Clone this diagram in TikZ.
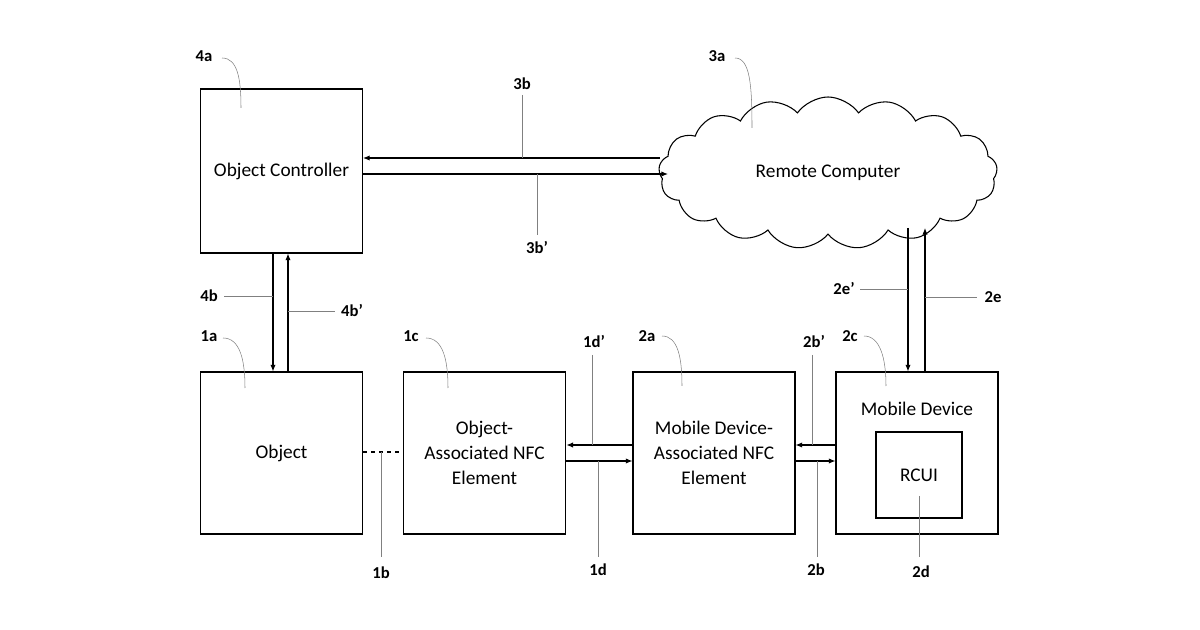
\documentclass[tikz,border=0pt]{standalone}
\usepackage{fontspec}
\setmainfont{Carlito}
\usetikzlibrary{shapes.symbols,arrows.meta}
\begin{document}
\begin{tikzpicture}[x=0.75pt,y=-0.75pt,
  blk/.style={draw,thick,inner sep=0pt,align=center,font=\fontsize{14.5}{18.5}\selectfont},
  lbl/.style={font=\bfseries\fontsize{12.5}{14}\selectfont},
  lead/.style={gray,thin},
  sig/.style={thick,-{Latex[length=5pt,width=4pt]}}]
  \useasboundingbox (0,0) rectangle (1200,630);

  % boxes
  \node[blk,minimum width=121.5pt,minimum height=123pt] (ctrl) at (281.5,171) {Object Controller};
  \node[blk,minimum width=121.5pt,minimum height=121.5pt] (obj) at (281.5,453) {Object};
  \node[blk,minimum width=122pt,minimum height=121.5pt] (onfc) at (484.5,453) {Object-\\Associated NFC\\Element};
  \node[blk,minimum width=121.5pt,minimum height=121.5pt] (mnfc) at (714,453) {Mobile Device-\\Associated NFC\\Element};
  \node[blk,minimum width=121.5pt,minimum height=121.5pt] (mob) at (917,453) {};
  \node[font=\fontsize{14.5}{18.5}\selectfont] (mobt) at (917,409) {Mobile Device};
  \node[blk,minimum width=64.5pt,minimum height=64.5pt] (rcui) at (919,475) {RCUI};
  \node[cloud,draw,thick,cloud puffs=17,cloud puff arc=110,aspect=2.3,
        minimum width=254pt,minimum height=114pt,font=\fontsize{14.5}{18.5}\selectfont] (rc) at (828,173) {Remote Computer};

  % signals
  \coordinate (c1) at (660,158);
  \coordinate (c2) at (668,174);
  \draw[sig] (c1) -- (ctrl.east |- c1);
  \draw[sig] (ctrl.east |- c2) -- (c2);
  \draw[sig] (ctrl.south -| 273,0) -- (obj.north -| 273,0);
  \draw[sig] (obj.north -| 288,0) -- (ctrl.south -| 288,0);
  \draw[sig] (mnfc.west |- 0,445) -- (onfc.east |- 0,445);
  \draw[sig] (onfc.east |- 0,461) -- (mnfc.west |- 0,461);
  \draw[sig] (mob.west |- 0,445) -- (mnfc.east |- 0,445);
  \draw[sig] (mnfc.east |- 0,461) -- (mob.west |- 0,461);
  \coordinate (e1) at (908,228);
  \coordinate (e2) at (925,228);
  \draw[sig] (e1) -- (mob.north -| e1);
  \draw[sig] (mob.north -| e2) -- (e2);
  \draw[thick,dashed] (obj.east |- 0,452) -- (onfc.west |- 0,452);

  % labels
  \node[lbl] (l4a) at (204,56) {4a};
  \node[lbl] (l3b) at (522,84) {3b};
  \node[lbl] (l3a) at (717,56) {3a};
  \node[lbl] (l3bp) at (537,248) {3b’};
  \node[lbl] (l4b) at (209,296) {4b};
  \node[lbl] (l4bp) at (352,311) {4b’};
  \node[lbl] (l1a) at (209,336) {1a};
  \node[lbl] (l1c) at (411,336) {1c};
  \node[lbl] (l1dp) at (594,342) {1d’};
  \node[lbl] (l2a) at (647,336) {2a};
  \node[lbl] (l2bp) at (814,342) {2b’};
  \node[lbl] (l2c) at (850,336) {2c};
  \node[lbl] (l2ep) at (844,289) {2e’};
  \node[lbl] (l2e) at (993,297) {2e};
  \node[lbl] (l1b) at (381,573) {1b};
  \node[lbl] (l1d) at (598,570) {1d};
  \node[lbl] (l2b) at (816,570) {2b};
  \node[lbl] (l2d) at (921,572) {2d};

  % leaders
  \draw[lead] (222,58) .. controls (238,58) and (241,80) .. (241,108);
  \draw[lead] (735,58) .. controls (750,58) and (752,85) .. (752,128);
  \draw[lead] (223,338) .. controls (240,338) and (245,360) .. (245,388);
  \draw[lead] (426,338) .. controls (443,338) and (448,360) .. (448,388);
  \draw[lead] (662,336) .. controls (678,336) and (682,358) .. (682,386);
  \draw[lead] (864,336) .. controls (880,336) and (886,358) .. (886,386);
  \draw[lead] (522,95) -- (522,158);
  \draw[lead] (537,174) -- (537,235);
  \draw[lead] (224,296) -- (273,296);
  \draw[lead] (288,311) -- (335,311);
  \draw[lead] (592,355) -- (592,445);
  \draw[lead] (598,461) -- (598,557);
  \draw[lead] (812,355) -- (812,445);
  \draw[lead] (817,461) -- (817,557);
  \draw[lead] (860,289) -- (908,289);
  \draw[lead] (925,297) -- (977,297);
  \draw[lead] (919,496) -- (919,557);
  \draw[lead] (381,452) -- (381,557);
\end{tikzpicture}
\end{document}
